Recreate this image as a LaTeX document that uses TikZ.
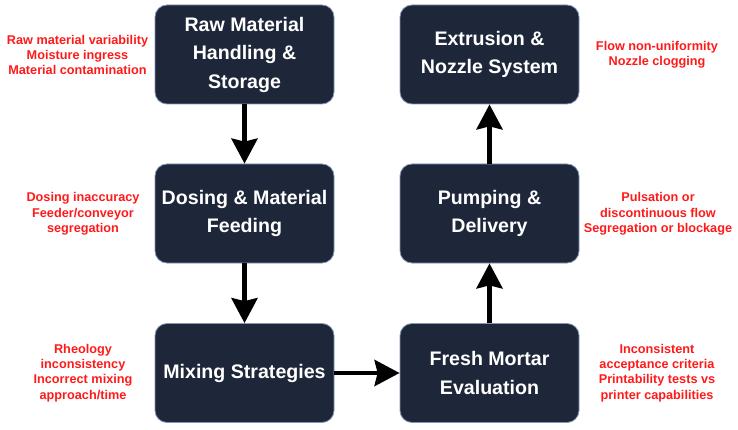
\documentclass[tikz,border=0pt]{standalone}
\usepackage{fontspec}
\setmainfont{Liberation Sans}
\definecolor{boxnavy}{HTML}{1E273A}
\definecolor{boxedge}{HTML}{8396B8}
\definecolor{riskred}{HTML}{FF1A1A}
\usetikzlibrary{arrows.meta}

\begin{document}
\begin{tikzpicture}[x=1pt, y=-1pt,
    stage/.style={draw=boxedge, line width=0.8pt, fill=boxnavy, rounded corners=12pt,
      minimum width=179pt, minimum height=99pt, inner sep=2pt, align=center,
      text=white, font=\fontsize{19.6}{28.5}\selectfont\bfseries},
    risk/.style={text=riskred, align=center, inner sep=0pt,
      font=\fontsize{12.7}{15.3}\selectfont\bfseries},
    flow/.style={-{Stealth[length=25pt, width=26pt, inset=3pt]}, line width=4.5pt}]
      \useasboundingbox (0,0) rectangle (738,430);
      % Process stages, left column top to bottom
      \node[stage] (raw) at (244.5,54.5) {Raw Material\\Handling \&\\Storage};
      \node[stage] (dosing) at (244.5,213.5) {Dosing \& Material\\Feeding};
      \node[stage] (mixing) at (244.5,373) {Mixing Strategies};
      % Right column, bottom to top
      \node[stage] (fresh) at (489.5,373) {Fresh Mortar\\Evaluation};
      \node[stage] (pumping) at (489.5,213.5) {Pumping \&\\Delivery};
      \node[stage] (extrusion) at (489.5,54.5) {Extrusion \&\\Nozzle System};
      % Flow between stages
      \draw[flow] (raw) -- (dosing);
      \draw[flow] (dosing) -- (mixing);
      \draw[flow] (mixing) -- (fresh);
      \draw[flow] (fresh) -- (pumping);
      \draw[flow] (pumping) -- (extrusion);
      % Risks beside each stage
      \node[risk] (rawrisk) at (77.5,55) {Raw material variability\\Moisture ingress\\Material contamination};
      \node[risk] (dosingrisk) at (83,214) {Dosing inaccuracy\\Feeder/conveyor\\segregation};
      \node[risk] (mixingrisk) at (83,373) {Rheology\\inconsistency\\Incorrect mixing\\approach/time};
      \node[risk] (freshrisk) at (657,373) {Inconsistent\\acceptance criteria\\Printability tests vs\\printer capabilities};
      \node[risk] (pumpingrisk) at (658,214) {Pulsation or\\discontinuous flow\\Segregation or blockage};
      \node[risk] (extrusionrisk) at (657,55) {Flow non-uniformity\\Nozzle clogging};
\end{tikzpicture}
\end{document}
